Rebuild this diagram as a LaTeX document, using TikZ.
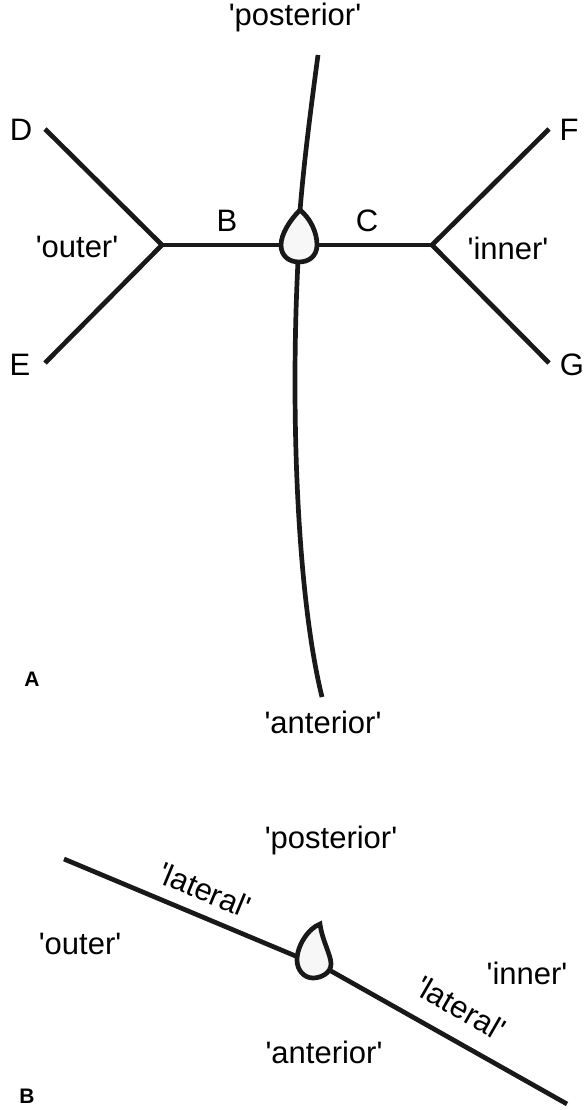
\documentclass[tikz,border=0pt]{standalone}
\usepackage{fontspec}
\setmainfont{Liberation Sans}[Ligatures=TeXOff]
\begin{document}
\begin{tikzpicture}[x=1pt,y=-1pt,
  ln/.style={line width=4.7pt,draw=black!90,line cap=butt,line join=round},
  drop/.style={line width=4.7pt,draw=black!90,fill=black!3},
  lab/.style={inner sep=0pt,font=\fontsize{31}{36}\selectfont},
  panel/.style={inner sep=0pt,font=\fontsize{21}{24}\selectfont\bfseries}]
\useasboundingbox (0,0) rectangle (585,1110);
% ---------- Panel A ----------
\coordinate (D) at (45,129);
\coordinate (E) at (45,363);
\coordinate (F) at (549,129);
\coordinate (G) at (549,363);
\coordinate (JL) at (162,245);
\coordinate (JR) at (432,245);
\coordinate (dl) at (282,245);
\coordinate (dr) at (316,245);
\coordinate (dt) at (300,211);
\coordinate (db) at (298,261);
\coordinate (post) at (318,55);
\coordinate (ant) at (322,697);
\draw[ln] (D) -- (JL) -- (E);
\draw[ln] (F) -- (JR) -- (G);
\draw[ln] (JL) -- (dl);
\draw[ln] (dr) -- (JR);
\draw[ln] (dt) .. controls (304,160) and (312,100) .. (post);
\draw[ln] (db) .. controls (290,420) and (298,600) .. (ant);
\draw[drop] (300,210) .. controls (290,220) and (281,234) .. (281,245)
   .. controls (281,256) and (289,262) .. (299,262)
   .. controls (309,262) and (317,256) .. (317,245)
   .. controls (317,232) and (310,218) .. cycle;
\node[lab] (lD) at (21,130) {D};
\node[lab] (lE) at (20,365) {E};
\node[lab] (lF) at (569,130) {F};
\node[lab] (lG) at (572,365) {G};
\node[lab] (lB) at (227,221) {B};
\node[lab] (lC) at (367,221) {C};
\node[lab] (lout) at (77,247) {'outer'};
\node[lab] (linn) at (508,248) {'inner'};
\node[lab] (lpost) at (295,17) {'posterior'};
\node[lab] (lant) at (323,722) {'anterior'};
\node[panel] (pA) at (32,679) {A};
% ---------- Panel B ----------
\coordinate (L1) at (64,859);
\coordinate (L2) at (298,957);
\coordinate (R1) at (331,971);
\coordinate (R2) at (567,1104);
\draw[ln] (L1) -- (L2);
\draw[ln] (R1) -- (R2);
\draw[drop] (320,924) .. controls (322,940) and (331,955) .. (331,964)
   .. controls (331,973) and (321,978) .. (313,978)
   .. controls (304,978) and (297,970) .. (297,960)
   .. controls (297,945) and (309,928) .. cycle;
\node[lab] (bpost) at (331,840) {'posterior'};
\node[lab] (bant) at (324,1052) {'anterior'};
\node[lab] (bout) at (80,944) {'outer'};
\node[lab] (binn) at (527,973) {'inner'};
\node[lab,rotate=-22.5] (blat1) at (205,890) {'lateral'};
\node[lab,rotate=-30] (blat2) at (461,1008) {'lateral'};
\node[panel] (pB) at (27,1096) {B};
\end{tikzpicture}
\end{document}
